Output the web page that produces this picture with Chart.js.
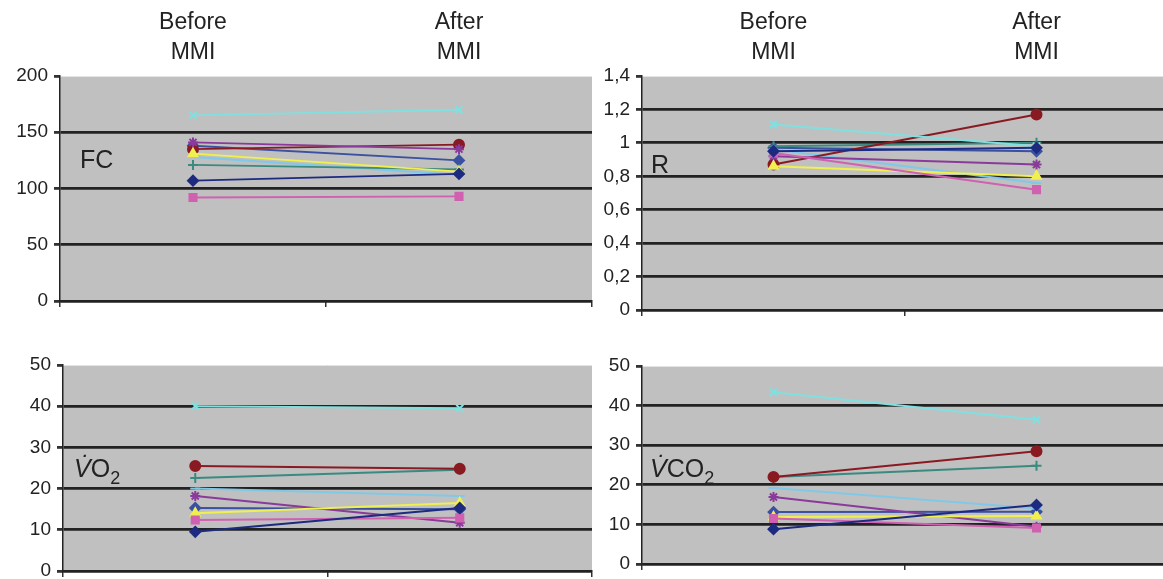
<!DOCTYPE html>
<html>
<head>
  <meta charset="UTF-8">
  <title>FC, R, VO2, VCO2 before and after MMI</title>
  <style>
    body {
      margin: 0;
      background: #ffffff;
      overflow: hidden;
      width: 1163px;
      height: 579px;
      position: relative;
      font-family: "Liberation Sans", Arial, sans-serif;
    }
    .box { position: absolute; }
    .lbl {
      position: absolute;
      font-size: 25px;
      color: #222;
      line-height: 1;
    }
    .lbl sub { font-size: 18px; vertical-align: -7px; line-height: 0; }
  </style>
  <script src="https://cdn.jsdelivr.net/npm/chart.js"></script>
</head>
<body>
  <div class="box" style="left:0;top:0;width:600px;height:322px"><canvas id="fc"></canvas></div>
  <div class="box" style="left:600px;top:0;width:575px;height:330px"><canvas id="r"></canvas></div>
  <div class="box" style="left:0;top:340px;width:600px;height:260px"><canvas id="vo2"></canvas></div>
  <div class="box" style="left:600px;top:340px;width:575px;height:260px"><canvas id="vco2"></canvas></div>

  <div class="lbl" style="left:80px;top:147px">FC</div>
  <div class="lbl" style="left:651px;top:152px">R</div>
  <div class="lbl" style="left:74px;top:456px"><i>V̇</i>O<sub>2</sub></div>
  <div class="lbl" style="left:650px;top:456px"><i>V̇</i>CO<sub>2</sub></div>

  <script>
    // categories
    var phases = ['Before MMI', 'After MMI'];
    var header = [['Before', 'MMI'], ['After', 'MMI']];

    // one value pair [before, after] per subject
    var fcValues = [
      [107, 113], [92, 93], [131, 115], [165, 170], [141, 135],
      [135, 139], [121, 117], [128, 112], [138, 125]
    ];
    var rValues = [
      [0.95, 0.97], [0.94, 0.72], [0.86, 0.80], [1.11, 0.98], [0.92, 0.87],
      [0.87, 1.17], [0.98, 1.00], [0.96, 0.76], [0.97, 0.95]
    ];
    var vo2Values = [
      [9.5, 15.3], [12.4, 12.9], [14, 16.5], [40, 39.5], [18.2, 11.7],
      [25.5, 24.8], [22.6, 24.6], [20, 18.2], [15.3, 15.0]
    ];
    var vco2Values = [
      [8.8, 14.9], [11.5, 9.1], [11.9, 12.1], [43.4, 36.4], [16.9, 9.4],
      [22, 28.5], [22, 24.8], [19.2, 14], [13.1, 13.2]
    ];

    var colors = ['#1c2a80', '#d060b0', '#f0f050', '#80e0e0', '#8a3a9a',
                  '#8a1a22', '#3a8a80', '#80c8e8', '#3a50a0'];
    var markers = ['rectRot', 'rect', 'triangle', 'crossRot', 'star',
                   'circle', 'cross', 'line', 'rectRot'];

    var plotBg = {
      id: 'plotBg',
      beforeDraw: function (chart) {
        var a = chart.chartArea, c = chart.ctx;
        c.save();
        c.fillStyle = '#c0c0c0';
        c.fillRect(a.left, a.top, a.right - a.left, a.bottom - a.top);
        c.strokeStyle = '#e4e4e4';
        c.lineWidth = 1;
        c.beginPath();
        c.moveTo(a.left, a.top + 0.5);
        c.lineTo(a.right, a.top + 0.5);
        c.stroke();
        c.restore();
      }
    };

    function makeChart(id, values, opt) {
      var datasets = values.map(function (v, i) {
        return {
          data: v,
          borderColor: colors[i],
          backgroundColor: colors[i],
          borderWidth: 2,
          pointStyle: markers[i],
          pointRadius: 5,
          pointBorderWidth: 2,
          xAxisID: 'x',
          yAxisID: 'y'
        };
      });

      var scales = {
        x: {
          type: 'category',
          labels: phases,
          offset: true,
          afterFit: function (s) { s.height = opt.xh; },
          ticks: { display: false },
          grid: { offset: true, drawOnChartArea: false, color: '#333', tickLength: 6, lineWidth: 1.5 },
          border: { color: '#222', width: 2 }
        },
        y: {
          min: opt.min,
          max: opt.max,
          afterFit: function (s) { s.width = opt.yw; },
          ticks: {
            stepSize: opt.step,
            color: '#222',
            padding: 6,
            font: { family: 'Liberation Sans, Arial', size: 19 },
            callback: function (v) { return String(Math.round(v * 10) / 10).replace('.', ','); }
          },
          grid: {
            color: function (ctx) { return ctx.tick && ctx.tick.value === opt.max ? 'rgba(0,0,0,0)' : '#222'; },
            tickColor: '#333',
            lineWidth: 2.8,
            tickLength: 6
          },
          border: { color: '#222', width: 1.5 }
        }
      };

      if (opt.top) {
        scales.x2 = {
          type: 'category',
          position: 'top',
          labels: header,
          offset: true,
          afterFit: function (s) { s.height = opt.top; },
          ticks: {
            color: '#222',
            padding: 0,
            autoSkip: false,
            maxRotation: 0,
            font: { family: 'Liberation Sans Narrow, Arial Narrow, Liberation Sans', size: 23, lineHeight: 1.3 }
          },
          grid: { display: false },
          border: { display: false }
        };
      }

      return new Chart(document.getElementById(id), {
        type: 'line',
        data: { labels: phases, datasets: datasets },
        options: {
          responsive: true,
          maintainAspectRatio: false,
          animation: false,
          layout: { padding: opt.pad },
          plugins: { legend: { display: false }, tooltip: { enabled: false } },
          scales: scales
        },
        plugins: [plotBg]
      });
    }

    makeChart('fc', fcValues, { min: 0, max: 200, step: 50, yw: 60, xh: 21, top: 76,
      pad: { left: 0, right: 8, top: 0, bottom: 0 } });
    makeChart('r', rValues, { min: 0, max: 1.4, step: 0.2, yw: 42, xh: 20, top: 76,
      pad: { left: 0, right: 4, top: 0, bottom: 0 } });
    makeChart('vo2', vo2Values, { min: 0, max: 50, step: 10, yw: 63, xh: 29,
      pad: { left: 0, right: 8, top: 25, bottom: 0 } });
    makeChart('vco2', vco2Values, { min: 0, max: 50, step: 10, yw: 42, xh: 36,
      pad: { left: 0, right: 4, top: 26, bottom: 0 } });
  </script>
</body>
</html>
